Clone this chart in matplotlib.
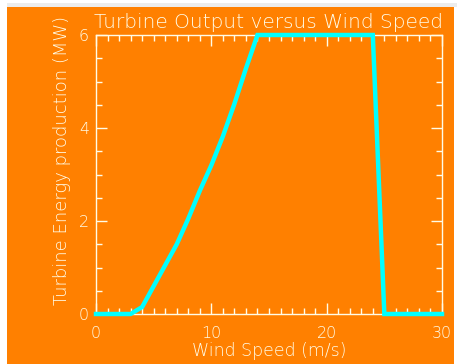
import numpy as np
import matplotlib
matplotlib.use("Agg")
from matplotlib import pyplot as plt
from matplotlib.patches import Rectangle

# wind speed (m/s) vs turbine output (MW)
speed = [0, 3, 4, 5, 6, 7, 8, 9, 10, 11, 12, 13, 14, 24, 25, 30]
power = [0, 0, 0.15, 0.6, 1.05, 1.5, 2.05, 2.65, 3.2, 3.82, 4.52, 5.28, 6.0, 6.0, 0, 0]

orange = "#FF8000"
fg = "#FFFCE8"

fig = plt.figure(figsize=(4.57, 3.64), dpi=100)
fig.patch.set_facecolor("white")
W, H = 457.0, 364.0
fig.patches.append(Rectangle((7 / W, 0), 447 / W, 357 / H, transform=fig.transFigure,
                             facecolor=orange, edgecolor="none", zorder=-10))
fig.patches.append(Rectangle((7 / W, 357 / H), 450 / W, 4 / H, transform=fig.transFigure,
                             facecolor="#ececec", edgecolor="none", zorder=-10))

ax = fig.add_axes([96 / W, 1 - 314 / H, 346 / W, 279 / H])
ax.set_facecolor(orange)
ax.plot(speed, power, color="#00FFFF", lw=3.2, solid_joinstyle="miter", clip_on=False, zorder=5)

ax.set_xlim(0, 30)
ax.set_ylim(0, 6)
ax.set_xticks([0, 10, 20, 30])
ax.set_xticks(np.arange(0, 31, 1), minor=True)
ax.set_yticks([0, 2, 4, 6])
ax.set_yticks(np.arange(0, 6.01, 0.5), minor=True)
for s in ax.spines.values():
    s.set_color(fg)
    s.set_linewidth(1.0)
ax.tick_params(which="both", direction="in", top=True, right=True, colors=fg, width=1.0)
ax.tick_params(which="major", length=8, labelsize=11.5)
ax.tick_params(which="minor", length=4)
ax.tick_params(axis="x", pad=9)
ax.tick_params(axis="y", pad=5)
for lab in ax.get_xticklabels() + ax.get_yticklabels():
    lab.set_fontweight("light")

ax.set_title("Turbine Output versus Wind Speed", color=fg, fontsize=14.5,
             fontweight="light", pad=5)
ax.set_xlabel("Wind Speed (m/s)", color=fg, fontsize=12.5, fontweight="light", labelpad=0)
ax.set_ylabel("Turbine Energy production (MW)", color=fg, fontsize=13,
              fontweight="light")
ax.yaxis.set_label_coords(-25 / 346, 0.55)

fig.savefig("out.png", dpi=100, facecolor=fig.get_facecolor())
